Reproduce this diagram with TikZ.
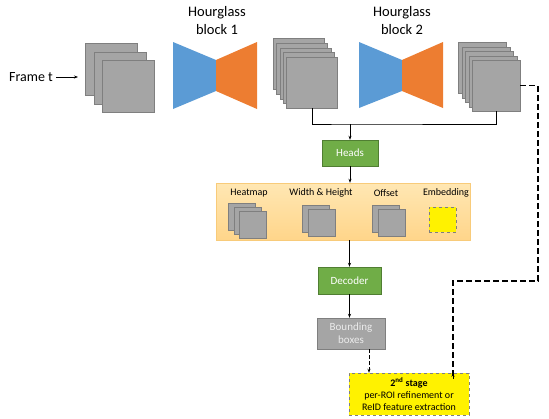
\documentclass[tikz,border=0pt]{standalone}
\usepackage{fontspec}
\setmainfont{Carlito}
\usetikzlibrary{arrows.meta,positioning}
\definecolor{fgray}{HTML}{A5A5A5}
\definecolor{fgrayd}{HTML}{7F7F7F}
\definecolor{hblue}{HTML}{5B9BD5}
\definecolor{horange}{HTML}{ED7D31}
\definecolor{hgreen}{HTML}{70AD47}
\definecolor{hgreend}{HTML}{507E32}
\definecolor{hpeach}{HTML}{FFE7B3}
\definecolor{hpeachd}{HTML}{FFD58A}
\definecolor{hpeachb}{HTML}{F8CB7A}
\tikzset{
  fmap/.style={draw=fgrayd,fill=fgray,line width=0.4pt,anchor=north west,inner sep=0pt},
  greenbox/.style={draw=hgreend,fill=hgreen,text=white,font=\fontsize{11}{12}\selectfont,inner sep=0pt},
  lbl/.style={font=\fontsize{10}{11}\selectfont},
  arr/.style={-{Stealth[length=4pt,width=3pt]},line width=0.6pt}
}
\newcommand{\hglass}[2]{
  \fill[hblue] (#1,42) -- (#1+43,60) -- (#1+43,91) -- (#1,#2) -- cycle;
  \fill[horange] (#1+43,60) -- (#1+84,42) -- (#1+84,#2) -- (#1+43,91) -- cycle;
}
\begin{document}
\begin{tikzpicture}[x=1pt,y=-1pt]
  \useasboundingbox (0,0) rectangle (549,418);
  % input frame
  \node[font=\fontsize{14}{15}\selectfont] (frame) at (31,77) {Frame t};
  \foreach \i/\n in {0/a,1/b,2/c}
    \node[fmap,minimum size=52pt] (s1\n) at (85+8.5*\i,43+8.5*\i) {};
  \draw[arr,shorten >=7pt] (frame.east) -- (s1a.west |- frame.east);
  % hourglass blocks
  \hglass{173}{109}
  \hglass{359}{108}
  \node[font=\fontsize{14.5}{18}\selectfont,align=center] (hg1) at (217,21) {Hourglass\\block 1};
  \node[font=\fontsize{14.5}{18}\selectfont,align=center] (hg2) at (402,21) {Hourglass\\block 2};
  \foreach \i/\n in {0/a,1/b,2/c,3/d,4/e}{
    \node[fmap,minimum size=51pt] (s2\n) at (273+3.3*\i,38+4.75*\i) {};
    \node[fmap,minimum width=48pt,minimum height=51pt] (s3\n) at (458+3.5*\i,42+4.5*\i) {};
  }
  % heads
  \node[greenbox,minimum width=56pt,minimum height=26pt] (heads) at (350,153) {Heads};
  \coordinate (join) at (350,124);
  \draw[line width=0.8pt] (s2e.south) |- (join) -| (s3e.south);
  \draw[arr] (join) -- (heads.north);
  % outputs
  \node[draw=hpeachb,top color=hpeach,bottom color=hpeachd,minimum width=254pt,minimum height=57pt,inner sep=0pt] (outs) at (343,211.5) {};
  \draw[arr] (heads.south) -- (heads.south |- outs.north);
  \node[lbl] (hm) at (249,193) {Heatmap};
  \node[lbl] (wh) at (321,193) {Width \& Height};
  \node[lbl] (of) at (386,193) {Offset};
  \node[lbl] (em) at (446,193) {Embedding};
  \foreach \i/\n in {0/a,1/b,2/c}
    \node[fmap,minimum size=27pt] (hm\n) at (228+5.5*\i,203+4*\i) {};
  \foreach \i/\n in {0/a,1/b}{
    \node[fmap,minimum size=27pt] (wh\n) at (302+6*\i,205+4*\i) {};
    \node[fmap,minimum size=27pt] (of\n) at (372+6*\i,205+4*\i) {};
  }
  \node[draw=fgrayd,dashed,fill=yellow,minimum width=27pt,minimum height=25pt,anchor=north west,inner sep=0pt] (emb) at (429,207) {};
  % decoding
  \node[greenbox,minimum width=63pt,minimum height=27pt] (dec) at (349.5,280.5) {Decoder};
  \draw[arr] (outs.south -| dec.north) -- (dec.north);
  \node[draw=fgrayd,fill=fgray,text=white!92!black,font=\fontsize{11}{13}\selectfont,align=center,minimum width=68pt,minimum height=31pt,inner sep=0pt] (bbox) at (351,333.5) {Bounding\\boxes};
  \draw[arr] (dec.south) -- (bbox.north -| dec.south);
  \node[draw=fgrayd,dashed,fill=yellow,font=\fontsize{10}{12}\selectfont,align=center,minimum width=120pt,minimum height=42pt,inner sep=0pt] (stage) at (409,394) {\textbf{2\textsuperscript{nd} stage}\\per-ROI refinement or\\ReID feature extraction};
  \draw[arr,dash pattern=on 4pt off 2pt] ([xshift=18pt]bbox.south) -- ([xshift=18pt]bbox.south |- stage.north);
  \coordinate (c1) at (538,281);
  \draw[line width=1.4pt,dash pattern=on 6pt off 3pt] (s3e.east) -| (c1) -| ([xshift=44pt,yshift=-5pt]stage.north);
  \draw[arr] ([xshift=44pt,yshift=-6pt]stage.north) -- ([xshift=44pt]stage.north);
\end{tikzpicture}
\end{document}
